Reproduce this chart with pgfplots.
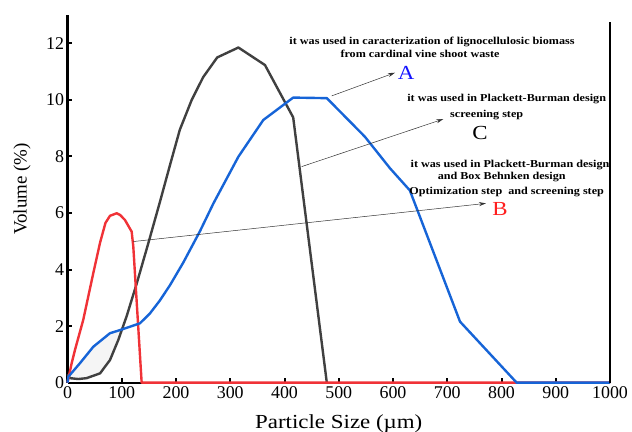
\documentclass[border=0pt]{standalone}
\usepackage{fontspec}
\setmainfont{Liberation Serif}[FakeStretch=1.15]
\newfontfamily\plainserif{Liberation Serif}
\usepackage{pgfplots}
\pgfplotsset{compat=1.18}
\usepgfplotslibrary{fillbetween}
\usetikzlibrary{arrows.meta}
\definecolor{cgray}{RGB}{64,64,64}
\definecolor{cred}{RGB}{240,50,55}
\definecolor{cblue}{RGB}{22,100,215}
\definecolor{lblue}{RGB}{20,20,255}
\definecolor{lred}{RGB}{255,30,30}
\begin{document}
\begin{tikzpicture}
\begin{axis}[
  at={(0,0)}, anchor=south west,
  scale only axis, width=542.5bp, height=367.7bp,
  xmin=0, xmax=1000, ymin=0, ymax=13,
  axis x line=bottom, axis y line=left,
  axis line style={-, line width=2.2bp, black},
  xtick={0,100,...,1000}, ytick={0,2,...,12},
  tick align=inside, major tick length=5bp,
  tick style={line width=2bp, black},
  ticklabel style={font=\plainserif\fontsize{18}{20}\selectfont},
  /pgf/number format/assume math mode=true,
  /pgf/number format/1000 sep={},
  xlabel={Particle Size (µm)},
  xlabel style={font=\fontsize{20}{24}\selectfont, at={(axis description cs:0.5,-0.1232)}, anchor=base},
  ylabel={\plainserif Volume (\%)},
  ylabel style={font=\fontsize{19}{22}\selectfont, at={(axis description cs:-0.0839,0.5268)}, anchor=center},
  clip=false,
]
% gray (A)
\addplot[cgray, line width=2.4bp, line join=round, name path=gr] coordinates {
(0,0.3) (4.6,0.16) (20,0.13) (35,0.16) (60,0.33) (78.3,0.8) (93.6,1.51) (109,2.35)
(127.5,3.5) (150,5.0) (170.5,6.4) (189,7.7) (207,8.94) (229,10.0) (250,10.8) (276,11.5) (315,11.85) (364,11.23)
(416,9.38) (478,0)};
% red (B)
\addplot[cred, line width=2.4bp, line join=round] coordinates {
(0,0) (7.7,0.69) (13.8,1.16) (29,2.22) (47.5,3.87) (60,4.95) (70,5.65) (78.3,5.9)
(90.6,5.99) (97,5.93) (106,5.75) (118.3,5.34) (121.3,4.81) (136.7,0) (1000,0)};
% blue (C)
\addplot[cblue, line width=2.4bp, line join=round, name path=bl] coordinates {
(0,0) (1.5,0.21) (23,0.69) (47.5,1.27) (78.3,1.75) (96.8,1.86) (133.6,2.1) (152,2.45)
(170,2.9) (189,3.45) (213.5,4.25) (244,5.35) (269,6.34) (315,7.99) (361,9.29) (416,10.08)
(478,10.06) (548,8.7) (594.5,7.58) (631,6.8) (723.5,2.16) (828,0) (1000,0)};
\addplot[black!4] fill between[of=bl and gr, soft clip={domain=3:104}];
% right frame line
\draw[line width=2.2bp, black] (axis cs:1000,0) -- (axis cs:1000,12.75);
% annotations
\begin{scope}[font=\fontsize{10.6}{12}\selectfont\bfseries]
\node at (axis cs:671.9,12.06) {it was used in caracterization of lignocellulosic biomass};
\node at (axis cs:649.8,11.62) {from cardinal vine shoot waste};
\node at (axis cs:809.6,10.02) {it was used in Plackett-Burman design};
\node at (axis cs:772.7,9.47) {screening step};
\node at (axis cs:815.7,7.70) {it was used in Plackett-Burman design};
\node at (axis cs:800.4,7.28) {and Box Behnken design};
\node at (axis cs:809.6,6.75) {Optimization step\ \ and screening step};
\end{scope}
\node[font=\fontsize{20}{22}\selectfont, text=lblue] at (axis cs:624,10.94) {A};
\node[font=\fontsize{20}{22}\selectfont, text=black] at (axis cs:760.4,8.84) {C};
\node[font=\fontsize{20}{22}\selectfont, text=lred] at (axis cs:797.2,6.13) {B};
\draw[line width=0.5bp, black!80, -{Stealth[length=7bp,width=4bp]}] (axis cs:487,10.14) -- (axis cs:603.7,10.96);
\draw[line width=0.5bp, black!80, -{Stealth[length=7bp,width=4bp]}] (axis cs:431.7,7.64) -- (axis cs:692.7,9.32);
\draw[line width=0.5bp, black!80, -{Stealth[length=7bp,width=4bp]}] (axis cs:121.3,4.99) -- (axis cs:771.4,6.34);
\end{axis}
\pgfresetboundingbox
\path[use as bounding box] (-67.5bp,-49.3bp) rectangle (564.5bp,382.7bp);
\end{tikzpicture}
\end{document}
